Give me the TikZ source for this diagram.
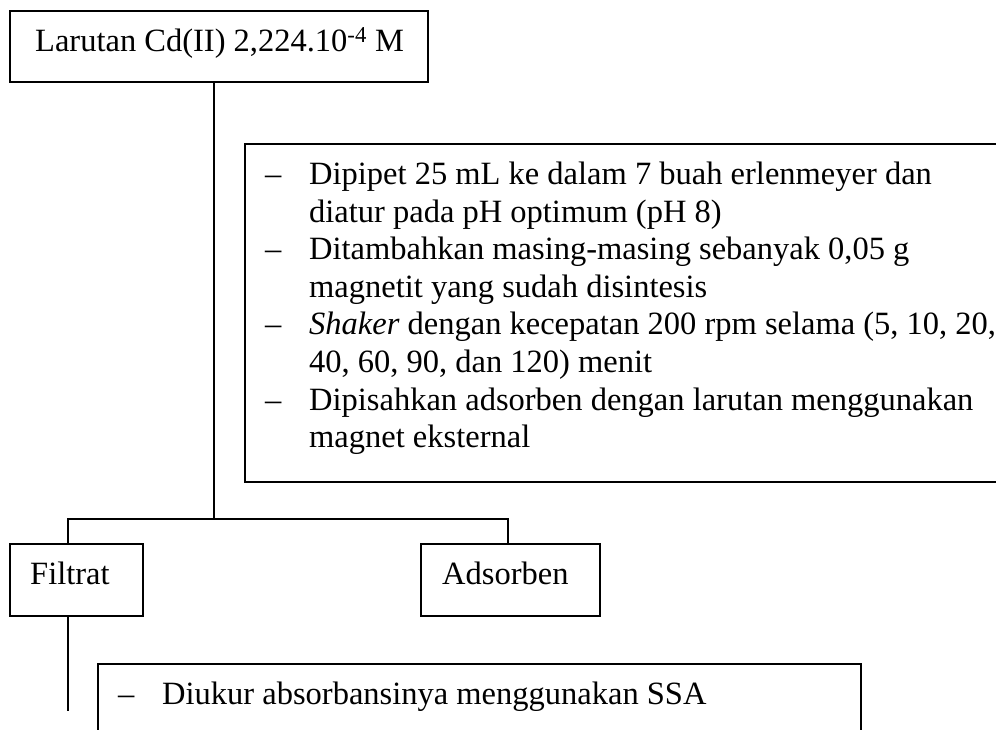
\documentclass[tikz,border=0pt]{standalone}
\usepackage{fontspec}
\setmainfont{Liberation Serif}
\newcommand{\steplist}[1]{\begin{tabular}[t]{@{}p{44pt}@{}l@{}}#1\end{tabular}}
\begin{document}
\begin{tikzpicture}[x=1pt,y=-1pt,
  box/.style={draw, line width=2pt, rectangle, inner sep=0pt, anchor=north west},
  txt/.style={inner sep=0pt, anchor=base west, font=\fontsize{32.5}{37.6}\selectfont},
  link/.style={line width=2pt}]
\useasboundingbox (0,0) rectangle (996,729);

% boxes
\node[box, minimum width=418, minimum height=71] (src) at (9,10) {};
\node[box, line width=2.4pt, minimum width=800, minimum height=338] (proc) at (244,143) {};
\node[box, minimum width=133, minimum height=72] (filtrat) at (9,543) {};
\node[box, minimum width=179, minimum height=72] (adsorben) at (420,543) {};
\node[box, minimum width=763, minimum height=120] (ssa) at (97,663) {};

% texts
\node[txt] (srcl) at ([xshift=26pt, yshift=-41.5pt]src.north west)
  {Larutan Cd(II) 2,224.10\textsuperscript{-4} M};
\node[txt] (procl) at ([xshift=21pt, yshift=-41.5pt]proc.north west)
  {\steplist{%
   -- & Dipipet 25 mL ke dalam 7 buah erlenmeyer dan\\
      & diatur pada pH optimum (pH 8)\\
   -- & Ditambahkan masing-masing sebanyak 0,05 g\\
      & magnetit yang sudah disintesis\\
   -- & \textit{Shaker} dengan kecepatan 200 rpm selama (5, 10, 20,\\
      & 40, 60, 90, dan 120) menit\\
   -- & Dipisahkan adsorben dengan larutan menggunakan\\
      & magnet eksternal}};
\node[txt] (filtratl) at ([xshift=21pt, yshift=-41.5pt]filtrat.north west) {Filtrat};
\node[txt] (adsorbenl) at ([xshift=22pt, yshift=-41.5pt]adsorben.north west) {Adsorben};
\node[txt] (ssal) at ([xshift=21pt, yshift=-41.5pt]ssa.north west)
  {\steplist{-- & Diukur absorbansinya menggunakan SSA}};

% connectors
\coordinate (split) at (214,519);
\coordinate (bl) at (68,519);
\coordinate (br) at (508,519);
\coordinate (out) at (68,711);
\draw[link] (split |- src.south) -- (split);
\draw[link] (bl |- filtrat.north) -- (bl) -- (br) -- (br |- adsorben.north);
\draw[link] (bl |- filtrat.south) -- (out);
\end{tikzpicture}
\end{document}
